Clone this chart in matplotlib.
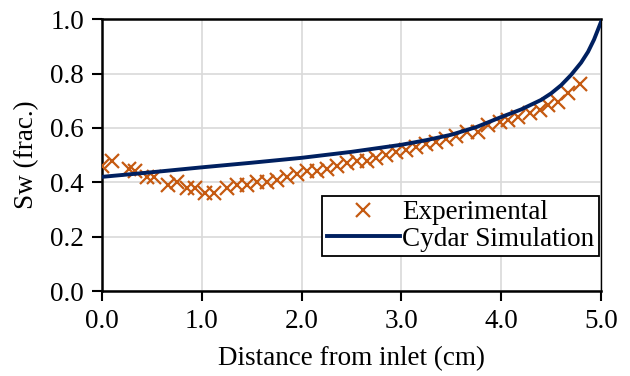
import numpy as np
import matplotlib.pyplot as plt

plt.rcParams['font.family'] = ['Liberation Serif', 'DejaVu Serif']

# measured water saturation profile
exp_x = [0.0, 0.10, 0.27, 0.33, 0.45, 0.52, 0.66, 0.75, 0.85, 0.93,
         1.03, 1.12, 1.25, 1.35, 1.45, 1.55, 1.65, 1.75, 1.85, 1.95,
         2.05, 2.15, 2.25, 2.35, 2.45, 2.55, 2.65, 2.75, 2.85, 2.95,
         3.05, 3.15, 3.25, 3.35, 3.45, 3.55, 3.66, 3.77, 3.87, 3.99,
         4.07, 4.17, 4.29, 4.39, 4.47, 4.57, 4.67, 4.79]
exp_sw = [0.46, 0.48, 0.45, 0.44, 0.42, 0.42, 0.39, 0.40, 0.38, 0.38,
          0.36, 0.36, 0.38, 0.39, 0.39, 0.40, 0.40, 0.41, 0.42, 0.43,
          0.44, 0.44, 0.45, 0.46, 0.47, 0.48, 0.48, 0.49, 0.50, 0.51,
          0.52, 0.53, 0.54, 0.55, 0.56, 0.57, 0.585, 0.585, 0.61, 0.62,
          0.63, 0.64, 0.655, 0.665, 0.685, 0.695, 0.73, 0.76]

# simulated profile
sim_x = [0.0, 0.5, 1.0, 1.5, 2.0, 2.5, 3.0, 3.25, 3.5, 3.75, 4.0, 4.2,
         4.4, 4.5, 4.6, 4.7, 4.8, 4.87, 4.93, 5.0]
sim_sw = [0.42, 0.437, 0.455, 0.472, 0.49, 0.512, 0.538, 0.555, 0.575,
          0.603, 0.64, 0.668, 0.703, 0.727, 0.757, 0.795, 0.84, 0.88,
          0.925, 0.99]

fig = plt.figure(figsize=(6.3, 3.76), dpi=100)
ax = fig.add_axes([0.162, 0.226, 0.792, 0.723])

ax.plot(exp_x, exp_sw, 'x', color='#c55a11', markersize=10, markeredgewidth=1.6,
        label='Experimental', zorder=3)
ax.plot(sim_x, sim_sw, '-', color='#002060', linewidth=2.8,
        solid_joinstyle='round', label='Cydar Simulation', zorder=4)

ax.set_xlim(0, 5)
ax.set_ylim(0, 1)
ax.set_xticks(np.arange(0, 5.01, 1.0))
ax.set_yticks(np.arange(0, 1.01, 0.2))
ax.set_xticklabels([f'{v:.1f}' for v in np.arange(0, 5.01, 1.0)])
ax.set_yticklabels([f'{v:.1f}' for v in np.arange(0, 1.01, 0.2)])
ax.grid(True, color='#d9d9d9', linewidth=1.2)
ax.set_axisbelow(True)

for side in ['left', 'bottom', 'top']:
    ax.spines[side].set_linewidth(1.8)
ax.spines['right'].set_linewidth(1.0)
ax.tick_params(direction='out', length=7, width=1.5, labelsize=19.5, pad=6)

ax.set_xlabel('Distance from inlet (cm)', fontsize=19.5, labelpad=9)
ax.set_ylabel('Sw (frac.)', fontsize=19.5, labelpad=8)

leg = ax.legend(loc='lower right', bbox_to_anchor=(0.995, 0.13), fontsize=19.5,
                frameon=True, fancybox=False, framealpha=1, edgecolor='black',
                borderpad=0.15, borderaxespad=0, handlelength=2.7,
                handletextpad=0.1, labelspacing=0.05)
leg.get_frame().set_linewidth(1.3)

fig.savefig('out.png', dpi=100)
